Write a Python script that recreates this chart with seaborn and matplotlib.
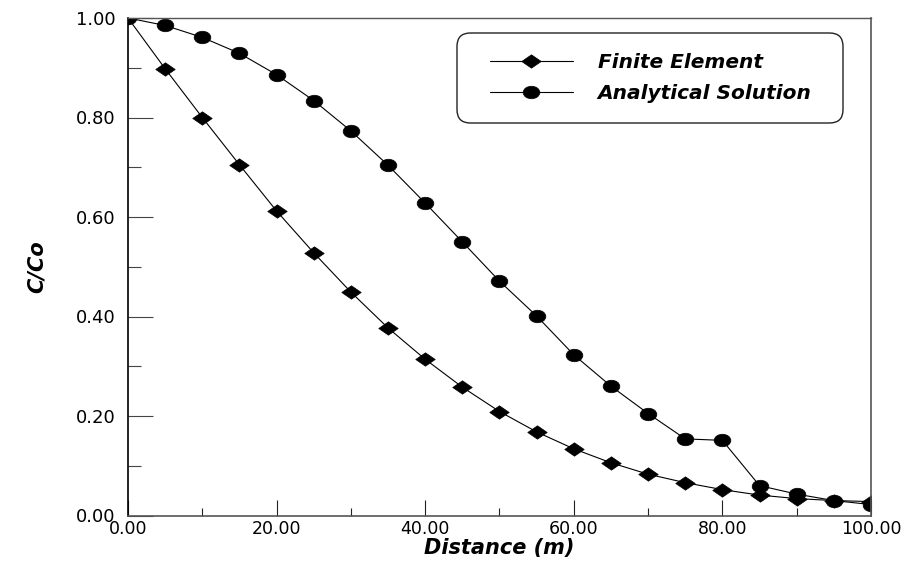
import numpy as np
import pandas as pd
import matplotlib
matplotlib.use("Agg")
import matplotlib.pyplot as plt
import seaborn as sns
from matplotlib.path import Path
from matplotlib.patches import FancyBboxPatch
from matplotlib.ticker import MultipleLocator, FormatStrFormatter

# ---- data ----
distance = [0, 5, 10, 15, 20, 25, 30, 35, 40, 45, 50, 55, 60, 65, 70, 75, 80, 85, 90, 95, 100]
finite_element = [1.000, 0.898, 0.800, 0.705, 0.612, 0.528, 0.449, 0.377, 0.314, 0.258, 0.209,
                  0.168, 0.134, 0.106, 0.083, 0.066, 0.052, 0.041, 0.034, 0.030, 0.028]
analytical = [1.000, 0.985, 0.961, 0.929, 0.886, 0.834, 0.773, 0.704, 0.628, 0.550, 0.471,
              0.401, 0.323, 0.260, 0.205, 0.154, 0.151, 0.060, 0.043, 0.030, 0.022]
series_names = ["Finite Element", "Analytical Solution"]
x_label = "Distance (m)"
y_label = "C/Co"

df = pd.DataFrame({"x": distance, "fe": finite_element, "an": analytical})

sns.set_style("white")
plt.rcParams["font.family"] = ["DejaVu Sans"]
plt.rcParams["text.color"] = "black"
plt.rcParams["axes.labelcolor"] = "black"

W, H = 906, 565
AX_L, AX_R, AX_T, AX_B = 128, 871, 18, 515.5
AW, AH = AX_R - AX_L, AX_B - AX_T

fig = plt.figure(figsize=(W / 100, H / 100), dpi=100)
ax = fig.add_axes([AX_L / W, 1 - AX_B / H, AW / W, AH / H])

# wide markers (the original is horizontally stretched)
ell = Path.unit_circle()
ell = Path(ell.vertices * np.array([1.0, 0.75]), ell.codes)
dia = Path([(-1, 0), (0, 0.69), (1, 0), (0, -0.69), (-1, 0)],
           [Path.MOVETO, Path.LINETO, Path.LINETO, Path.LINETO, Path.CLOSEPOLY])

common = dict(color="black", linewidth=0.8,
              markeredgecolor="black", markerfacecolor="black", markeredgewidth=0.5)
sns.lineplot(data=df, x="x", y="fe", marker=dia, markersize=14, label=series_names[0], ax=ax, **common)
sns.lineplot(data=df, x="x", y="an", marker=ell, markersize=12, label=series_names[1], ax=ax, **common)

ax.set_xlim(0, 100)
ax.set_ylim(0, 1.0)
ax.xaxis.set_major_locator(MultipleLocator(20))
ax.xaxis.set_minor_locator(MultipleLocator(10))
ax.yaxis.set_major_locator(MultipleLocator(0.2))
ax.yaxis.set_minor_locator(MultipleLocator(0.1))
ax.xaxis.set_major_formatter(FormatStrFormatter("%.2f"))
ax.yaxis.set_major_formatter(FormatStrFormatter("%.2f"))

ax.tick_params(axis="x", which="both", bottom=True, top=False)
ax.tick_params(axis="y", which="both", left=True, right=False)
ax.tick_params(axis="x", which="major", direction="in", length=11.5, width=0.8,
               color="#222222", labelsize=12.5, pad=3.5, labelcolor="black")
ax.tick_params(axis="x", which="minor", direction="in", length=6, width=0.8, color="#222222")
ax.tick_params(axis="y", which="major", direction="in", length=18, width=0.8,
               color="#444444", labelsize=13, pad=9, labelcolor="black")
ax.tick_params(axis="y", which="minor", direction="in", length=9, width=0.8, color="#444444")

for side, col, lw in [("left", "black", 1.2), ("bottom", "#555555", 1.2),
                      ("top", "#555555", 1.0), ("right", "#555555", 1.2)]:
    ax.spines[side].set_visible(True)
    ax.spines[side].set_color(col)
    ax.spines[side].set_linewidth(lw)

ax.set_xlabel(x_label, fontsize=15, fontweight="bold", fontstyle="italic", labelpad=0)
ax.set_ylabel(y_label, fontsize=15, fontweight="bold", fontstyle="italic", labelpad=21)

# legend (frameless) plus a rounded box drawn separately
leg = ax.legend(loc="upper left", bbox_to_anchor=((490 - AX_L) / AW, (AX_B - 53) / AH),
                frameon=False, borderpad=0, borderaxespad=0, handlelength=4.1,
                handletextpad=1.25, labelspacing=0.62, numpoints=1,
                prop=dict(size=14.5, weight="bold", style="italic"))
for t in leg.get_texts():
    t.set_color("black")

bx0, bx1 = (457 - AX_L) / AW, (843 - AX_L) / AW
by0, by1 = (AX_B - 123) / AH, (AX_B - 33) / AH
box = FancyBboxPatch((bx0, by0), bx1 - bx0, by1 - by0,
                     boxstyle="round,pad=0,rounding_size=0.018",
                     mutation_aspect=AW / AH,
                     transform=ax.transAxes, facecolor="white", edgecolor="#222222",
                     linewidth=1.0, zorder=4)
ax.add_patch(box)
leg.set_zorder(5)

fig.savefig("out.png", dpi=100)
